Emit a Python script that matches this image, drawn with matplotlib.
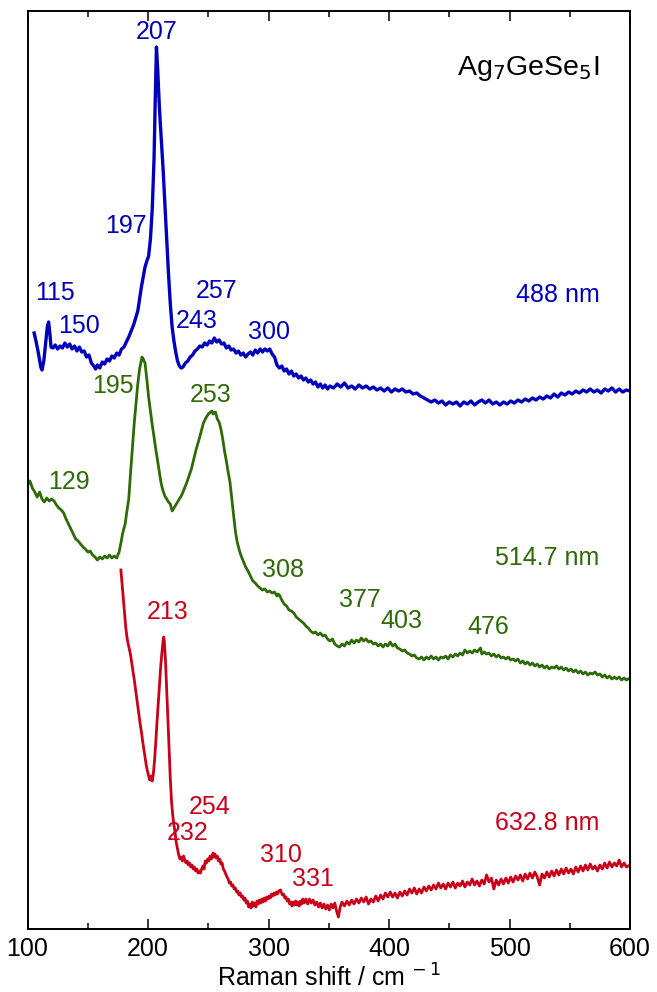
import numpy as np
import matplotlib
matplotlib.use("Agg")
import matplotlib.pyplot as plt

plt.rcParams['font.family'] = ['Liberation Sans', 'DejaVu Sans']

# Raman spectra of Ag7GeSe5I, (shift / cm^-1, intensity / arb. units, stacked)
spec_488 = [
    (105.5, 596), (107, 588), (109, 576), (111, 562), (112, 559), (113.5, 568), (115, 586),
    (116.5, 603), (117.5, 607), (118.5, 596), (119.5, 582), (121, 581), (123, 584), (125, 580),
    (127, 583), (129, 581), (131, 586), (133, 582), (135, 585), (137, 580), (139, 583), (141, 578),
    (143, 582), (145, 577), (147, 578), (149, 572), (151, 574), (153, 566), (155, 563), (156.5, 560),
    (158, 564), (160, 561), (162, 567), (164, 565), (166, 570), (168, 568), (170, 573), (172, 571),
    (174, 576), (176, 574), (178, 580), (180, 582), (182, 587), (184, 592), (186, 598), (188, 604),
    (190, 612), (191.5, 618), (193, 630), (194.5, 642), (196, 652), (197.5, 662), (199, 668),
    (200.5, 673), (202, 690), (203.5, 720), (205, 770), (206, 830), (207, 882), (208, 860),
    (209.5, 820), (211, 790), (212.5, 760), (214, 725), (215.5, 690), (217, 655), (218.5, 625),
    (220, 602), (221.5, 588), (223, 577), (224.5, 568), (226, 563), (227.5, 561), (229, 562),
    (231, 566), (233, 568), (235, 572), (237, 574), (239, 578), (241, 580), (243, 583), (245, 582),
    (247, 586), (249, 584), (251, 588), (253, 586), (255, 591), (257, 587), (259, 589), (261, 585),
    (263, 586), (265, 581), (267, 583), (269, 579), (271, 580), (273, 576), (275, 578), (277, 574),
    (279, 576), (281, 572), (283, 575), (285, 577), (287, 574), (289, 579), (291, 576), (293, 580),
    (295, 577), (297, 580), (299, 578), (301, 580), (303, 575), (305, 572), (307, 564), (309, 561),
    (311, 563), (313, 558), (315, 560), (317, 555), (319, 558), (321, 553), (323, 555), (325, 551),
    (327, 553), (329, 549), (331, 551), (333, 547), (335, 549), (337, 545), (339, 547), (341, 542),
    (343, 545), (345, 541), (347, 544), (349, 540), (351, 543), (354, 541), (357, 545), (360, 542),
    (363, 546), (366, 541), (369, 543), (372, 540), (375, 544), (378, 541), (381, 543), (384, 540),
    (387, 542), (390, 539), (393, 541), (396, 538), (399, 541), (402, 537), (405, 540), (408, 538),
    (411, 540), (414, 537), (417, 538), (420, 535), (423, 536), (426, 533), (429, 531), (432, 529),
    (435, 527), (438, 529), (441, 526), (444, 528), (447, 524), (450, 527), (453, 525), (456, 527),
    (459, 523), (462, 527), (465, 525), (468, 528), (471, 524), (474, 527), (477, 529), (480, 526),
    (483, 529), (486, 525), (489, 527), (492, 524), (495, 527), (498, 525), (501, 528), (504, 526),
    (507, 529), (510, 527), (513, 530), (516, 528), (519, 531), (522, 529), (525, 532), (528, 530),
    (531, 533), (534, 531), (537, 535), (540, 532), (543, 536), (546, 534), (549, 537), (552, 535),
    (555, 538), (558, 536), (561, 539), (564, 537), (567, 540), (570, 537), (573, 539), (576, 536),
    (579, 540), (582, 538), (585, 541), (588, 537), (591, 540), (594, 537), (597, 539), (600, 538),
]

spec_5147 = [
    (100, 444), (102, 448), (104, 441), (106, 437), (108, 432), (110, 437), (112, 430), (114, 427),
    (116, 431), (118, 428), (120, 430), (122, 428), (124, 424), (126, 421), (128, 419), (130, 416),
    (132, 410), (134, 405), (136, 400), (138, 395), (140, 390), (142, 388), (144, 385), (146, 382),
    (148, 380), (150, 377), (152, 378), (154, 374), (156, 372), (158, 369), (160, 372), (162, 370),
    (164, 373), (166, 371), (168, 374), (170, 371), (172, 373), (174, 371), (176, 377), (177.5, 386),
    (179, 396), (181, 405), (182.5, 418), (184, 430), (185.5, 456), (187, 480), (188.5, 505),
    (190, 525), (191.5, 545), (193, 560), (194.5, 569), (195, 572), (196, 570), (197.5, 566),
    (199, 550), (200.5, 532), (202, 518), (203.5, 504), (205, 492), (206.5, 479), (208, 468),
    (209.5, 456), (211, 445), (212.5, 438), (214, 433), (215.5, 430), (217, 427), (218.5, 425),
    (220, 418), (221.5, 421), (223, 424), (224.5, 427), (226, 430), (228, 434), (230, 440),
    (232, 446), (234, 453), (236, 460), (238, 470), (240, 480), (242, 488), (244, 497), (246, 506),
    (248, 511), (250, 515), (253, 518), (254, 515), (256, 517), (257.5, 510), (259, 507),
    (260.5, 500), (262, 490), (263.5, 478), (265, 468), (266.5, 457), (268, 447), (269.5, 430),
    (271, 414), (272.5, 398), (274, 387), (275.5, 380), (277, 374), (279, 368), (281, 362),
    (283, 358), (285, 353), (287, 348), (289, 346), (291, 343), (293, 341), (295, 339), (297, 340),
    (299, 337), (301, 338), (303, 336), (305, 337), (307, 333), (308, 335), (309, 334), (311, 329),
    (313, 325), (315, 323), (317, 319), (319, 318), (321, 316), (323, 312), (325, 310), (327, 308),
    (329, 306), (331, 303), (333, 301), (335, 298), (337, 296), (339, 297), (341, 294), (343, 296),
    (345, 293), (347, 294), (349, 290), (351, 288), (353, 290), (355, 285), (357, 283), (359, 282),
    (361, 285), (363, 283), (365, 287), (367, 285), (369, 289), (371, 286), (373, 289), (375, 287),
    (377, 291), (379, 288), (381, 290), (383, 287), (385, 288), (387, 285), (389, 286), (391, 283),
    (393, 285), (395, 282), (397, 285), (399, 283), (401, 287), (403, 283), (405, 285), (407, 281),
    (409, 280), (411, 278), (413, 279), (415, 276), (417, 275), (419, 273), (421, 274), (423, 271),
    (425, 270), (427, 272), (429, 269), (431, 272), (433, 270), (435, 273), (437, 270), (439, 272),
    (441, 269), (443, 272), (445, 271), (447, 273), (449, 270), (451, 274), (453, 272), (455, 275),
    (457, 273), (459, 276), (461, 274), (463, 279), (465, 276), (467, 278), (469, 276), (471, 279),
    (473, 277), (476, 281), (477, 275), (479, 277), (481, 275), (483, 276), (485, 273), (487, 275),
    (489, 272), (491, 274), (493, 271), (495, 272), (497, 270), (499, 272), (501, 269), (503, 270),
    (505, 268), (507, 270), (509, 266), (511, 268), (513, 265), (515, 267), (517, 264), (519, 266),
    (521, 263), (523, 265), (525, 262), (527, 264), (529, 261), (531, 263), (533, 260), (535, 262),
    (537, 261), (539, 263), (541, 260), (543, 262), (545, 259), (547, 261), (549, 258), (551, 260),
    (553, 257), (555, 259), (557, 256), (559, 258), (561, 255), (563, 257), (565, 254), (567, 256),
    (569, 255), (571, 257), (573, 254), (575, 255), (577, 252), (579, 254), (581, 251), (583, 253),
    (585, 250), (587, 252), (589, 250), (591, 252), (593, 249), (595, 251), (597, 249), (600, 251),
]

spec_6328 = [
    (177.5, 359), (178.5, 345), (179.5, 332), (180.5, 318), (181.5, 302), (182.5, 292), (183.5, 285),
    (184.5, 280), (185.5, 274), (186.5, 266), (187.5, 258), (188.5, 250), (189.5, 241), (190.5, 232),
    (191.5, 223), (192.5, 214), (193.5, 205), (194.5, 197), (195.5, 188), (196.5, 180), (197.5, 172),
    (198.5, 164), (199.5, 158), (200.5, 153), (201.5, 149), (202.5, 153), (203.5, 148), (204.5, 156),
    (205.5, 170), (206.5, 188), (207.5, 208), (208.5, 226), (209.5, 245), (210.5, 262), (211.5, 276),
    (212.5, 288), (213, 292), (213.5, 288), (214.5, 268), (215.5, 240), (216.5, 210), (217.5, 180),
    (218.5, 150), (219.5, 128), (220.5, 114), (221.5, 104), (222.5, 96), (223.5, 86), (224.5, 80),
    (225.5, 74), (226.5, 70), (227.5, 72), (228.5, 68), (229.5, 73), (230.5, 69), (231.5, 66),
    (232.5, 68), (233.5, 64), (234.5, 66), (235.5, 62), (236.5, 64), (237.5, 60), (238.5, 62),
    (239.5, 58), (240.5, 60), (241.5, 56), (242.5, 58), (243.5, 56), (244.5, 60), (245.5, 63),
    (246.5, 60), (247.5, 68), (248.5, 66), (249.5, 70), (250.5, 68), (251.5, 73), (252.5, 70),
    (254, 76), (254.5, 72), (255.5, 75), (256.5, 71), (257.5, 73), (258.5, 68), (259.5, 70),
    (260.5, 65), (261.5, 66), (262.5, 60), (263.5, 58), (264.5, 55), (265.5, 52), (266.5, 50),
    (267.5, 46), (268.5, 47), (269.5, 43), (270.5, 44), (271.5, 40), (272.5, 41), (273.5, 37),
    (274.5, 38), (275.5, 34), (276.5, 36), (277.5, 32), (278.5, 33), (279.5, 29), (280.5, 31),
    (281.5, 26), (282.5, 28), (283.5, 22), (284.5, 25), (285.5, 21), (286.5, 27), (287.5, 23),
    (288.5, 26), (289.5, 22), (290.5, 28), (291.5, 25), (292.5, 29), (293.5, 26), (294.5, 30),
    (295.5, 27), (296.5, 31), (297.5, 28), (298.5, 32), (299.5, 30), (300.5, 33), (301.5, 31),
    (302.5, 35), (303.5, 33), (304.5, 36), (305.5, 34), (306.5, 37), (307.5, 35), (308.5, 38),
    (310, 39), (310.5, 37), (311.5, 34), (312.5, 35), (313.5, 31), (314.5, 32), (315.5, 28),
    (316.5, 30), (317.5, 25), (318.5, 27), (319.5, 23), (320.5, 27), (321.5, 24), (322.5, 28),
    (323.5, 24), (324.5, 27), (325.5, 23), (326.5, 28), (327.5, 25), (328.5, 30), (329.5, 26),
    (331, 30), (332.5, 25), (334, 30), (335.5, 26), (337, 29), (338.5, 24), (340, 27), (341.5, 22),
    (343, 26), (344.5, 21), (346, 25), (347.5, 20), (349, 24), (350.5, 19), (352, 25), (353.5, 21),
    (355, 26), (356.5, 18), (358, 12), (359.5, 22), (361, 27), (363, 23), (365, 28), (367, 24),
    (369, 29), (371, 25), (373, 30), (375, 26), (377, 31), (379, 27), (381, 32), (383, 25),
    (385, 30), (387, 27), (389, 33), (391, 28), (393, 34), (395, 30), (397, 36), (399, 32),
    (401, 37), (403, 32), (405, 36), (407, 31), (409, 37), (411, 33), (413, 38), (415, 34),
    (417, 40), (419, 36), (421, 41), (423, 35), (425, 40), (427, 36), (429, 42), (431, 38),
    (433, 43), (435, 39), (437, 44), (439, 40), (441, 46), (443, 41), (445, 45), (447, 40),
    (449, 46), (451, 42), (453, 47), (455, 41), (457, 46), (459, 43), (461, 48), (463, 42),
    (465, 47), (467, 44), (469, 50), (471, 44), (473, 48), (475, 43), (477, 49), (479, 45),
    (481, 54), (483, 47), (485, 51), (487, 40), (489, 49), (491, 44), (493, 50), (495, 45),
    (497, 51), (499, 46), (501, 52), (503, 47), (505, 53), (507, 49), (509, 54), (511, 48),
    (513, 55), (515, 50), (517, 56), (519, 51), (521, 57), (523, 52), (525, 44), (527, 55),
    (529, 51), (531, 57), (533, 52), (535, 58), (537, 53), (539, 59), (541, 54), (543, 60),
    (545, 55), (547, 61), (549, 56), (551, 60), (553, 55), (555, 62), (557, 57), (559, 63),
    (561, 58), (563, 64), (565, 59), (567, 65), (569, 60), (571, 63), (573, 58), (575, 64),
    (577, 60), (579, 66), (581, 61), (583, 67), (585, 62), (587, 66), (589, 63), (591, 69),
    (593, 62), (595, 66), (597, 62), (600, 64),
]

# Peak labels: (text, x, y)
peaks_488 = [("207", 207, 897), ("197", 181.5, 703), ("115", 122.5, 636), ("150", 143, 603),
             ("257", 256.5, 638), ("243", 240, 608), ("300", 300.5, 597)]
peaks_5147 = [("195", 170.5, 543), ("253", 252, 534), ("129", 134.5, 447), ("308", 312, 359),
              ("377", 376, 329), ("403", 410, 308), ("476", 482, 302)]
peaks_6328 = [("213", 216, 317), ("254", 251, 122), ("232", 232.5, 96), ("310", 310, 74),
              ("331", 336.5, 50)]

series = [
    (spec_488, peaks_488, "488 nm", 634, "#0000bb", 2.4),
    (spec_5147, peaks_5147, "514.7 nm", 371, "#2e6a06", 2.0),
    (spec_6328, peaks_6328, "632.8 nm", 106, "#c8001a", 2.0),
]

FS = 18

fig = plt.figure(figsize=(6.57, 9.92), dpi=100)
ax = fig.add_axes([0.0419, 0.0635, 0.9170, 0.9259])

for spec, peaks, laser, laser_y, color, lw in series:
    arr = np.array(spec, dtype=float)
    ax.plot(arr[:, 0], arr[:, 1], color=color, lw=lw, solid_joinstyle='round')
    for txt, px, py in peaks:
        ax.text(px, py, txt, color=color, fontsize=FS, ha='center', va='center')
    ax.text(574.5, laser_y, laser, color=color, fontsize=FS, ha='right', va='center')

ax.text(574.5, 861, r"Ag$_7$GeSe$_5$I", color='black', fontsize=20.5, ha='right', va='center')

ax.set_xlim(100, 600)
ax.set_ylim(0, 918.5)
ax.set_xticks([100, 200, 300, 400, 500, 600])
ax.set_xticks(np.arange(150, 600, 100), minor=True)
ax.set_yticks([])
ax.tick_params(axis='x', which='both', direction='in', top=True, width=1.1,
               labelsize=FS, pad=6)
ax.tick_params(axis='x', which='major', length=7)
ax.tick_params(axis='x', which='minor', length=4)
for sp in ax.spines.values():
    sp.set_linewidth(1.4)
ax.set_xlabel("Raman shift / cm$^{\\,-1}$", fontsize=18, labelpad=2)

fig.savefig("out.png", dpi=100)
